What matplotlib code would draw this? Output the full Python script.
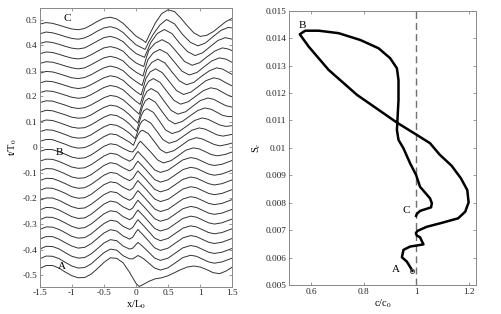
import numpy as np
import matplotlib
matplotlib.use("Agg")
import matplotlib.pyplot as plt

plt.rcParams['font.family'] = ['Liberation Serif', 'DejaVu Serif']
plt.rcParams['mathtext.fontset'] = 'stix'
plt.rcParams['axes.unicode_minus'] = False

# ---- left panel: profiles stacked at t/T0 (A bottom ... C top) ----
t_off = [-0.474, -0.436, -0.398, -0.359, -0.321, -0.283, -0.245, -0.207, -0.168,
         -0.130, -0.092, -0.054, -0.016, 0.023, 0.061, 0.099, 0.137, 0.175,
         0.214, 0.252, 0.290, 0.328, 0.366, 0.405, 0.443, 0.481]

# left part, shared x, displacement in 1e-3 t/T0
x_left = [-1.5, -1.4, -1.3, -1.2, -1.1, -1.0, -0.9, -0.8, -0.7, -0.6, -0.5, -0.4, -0.3]
d_left = [
    [0, 12, 12, 2, -14, -28, -36, -35, -22, 0, 24, 42, 40],
    [0, 11, 10, 1, -14, -28, -36, -34, -20, 2, 24, 38, 34],
    [0, 11, 10, 1, -14, -28, -35, -33, -19, 2, 24, 37, 33],
    [0, 10, 10, 0, -14, -27, -35, -32, -18, 3, 24, 37, 32],
    [0, 10, 9, 0, -13, -27, -34, -32, -18, 3, 23, 36, 32],
    [0, 10, 9, 0, -13, -26, -34, -31, -17, 3, 23, 35, 31],
    [0, 10, 9, 0, -13, -26, -33, -31, -17, 3, 23, 35, 30],
    [0, 9, 9, 0, -13, -25, -32, -30, -16, 3, 22, 34, 30],
    [0, 9, 8, -1, -12, -25, -31, -29, -16, 3, 22, 33, 29],
    [0, 9, 8, -1, -12, -24, -30, -28, -15, 3, 21, 32, 28],
    [0, 9, 8, -1, -12, -24, -29, -27, -15, 3, 21, 32, 27],
    [0, 8, 7, -1, -12, -23, -28, -26, -14, 3, 20, 31, 27],
    [0, 8, 7, -1, -11, -22, -27, -25, -14, 3, 20, 30, 26],
    [0, 8, 7, -2, -11, -21, -26, -24, -13, 3, 19, 30, 26],
    [0, 8, 6, -2, -11, -21, -25, -23, -12, 4, 19, 29, 25],
    [0, 8, 6, -2, -11, -20, -24, -22, -11, 4, 19, 29, 25],
    [0, 8, 6, -2, -10, -19, -23, -21, -10, 5, 19, 28, 24],
    [0, 7, 6, -2, -10, -19, -23, -20, -9, 5, 19, 28, 24],
    [0, 7, 5, -2, -10, -18, -22, -19, -8, 6, 20, 28, 23],
    [0, 7, 5, -2, -10, -18, -22, -18, -7, 7, 20, 28, 23],
    [0, 7, 5, -2, -10, -18, -21, -17, -6, 8, 21, 28, 22],
    [0, 7, 5, -2, -10, -17, -21, -17, -5, 9, 22, 28, 22],
    [0, 7, 5, -2, -10, -17, -20, -16, -4, 10, 23, 28, 22],
    [1, 8, 5, -2, -10, -17, -20, -16, -3, 11, 24, 29, 22],
    [1, 8, 5, -2, -10, -17, -20, -15, -3, 12, 24, 29, 22],
    [1, 7, 4, -3, -11, -18, -21, -16, -3, 12, 24, 28, 21],
]

# right part (x > -0.3), per curve
x_low = [-0.2, -0.1, -0.05, 0.0, 0.03, 0.07, 0.12, 0.205, 0.29, 0.38, 0.5, 0.615,
         0.73, 0.85, 0.94, 1.035, 1.13, 1.22, 1.34, 1.5]
d_low = [12, 0, 8, 28, 38, 27, 14, -10, -34, -44, -35, -15, 5, 14, 10, -1, -12, -17, -12, 3]

x_right = [
    [-0.2, -0.1, 0.0, 0.05, 0.1, 0.2, 0.3, 0.4, 0.5, 0.6, 0.7, 0.8, 0.9, 1.0, 1.1, 1.2, 1.3, 1.4, 1.5],
    x_low, x_low, x_low, x_low, x_low, x_low, x_low, x_low, x_low, x_low, x_low,
    [-0.2, -0.1, -0.05, 0.0, 0.04, 0.07, 0.115, 0.16, 0.25, 0.335, 0.425, 0.545, 0.66, 0.775,
     0.895, 0.985, 1.08, 1.17, 1.265, 1.385, 1.5],
    [-0.2, -0.1, -0.04, 0.0, 0.04, 0.07, 0.10, 0.19, 0.285, 0.38, 0.47, 0.59, 0.705, 0.82,
     0.94, 1.03, 1.125, 1.22, 1.31, 1.41, 1.5],
    [-0.2, -0.1, -0.05, -0.012, 0.025, 0.06, 0.095, 0.135, 0.23, 0.325, 0.42, 0.515, 0.63,
     0.75, 0.87, 0.985, 1.08, 1.17, 1.26, 1.355, 1.5],
    [-0.2, -0.1, -0.04, 0.01, 0.045, 0.08, 0.12, 0.17, 0.27, 0.365, 0.46, 0.56, 0.675, 0.795,
     0.91, 1.03, 1.12, 1.215, 1.31, 1.40, 1.5],
    [-0.2, -0.1, -0.03, 0.03, 0.065, 0.1, 0.145, 0.2, 0.3, 0.4, 0.505, 0.605, 0.72, 0.84,
     0.96, 1.075, 1.17, 1.26, 1.35, 1.445, 1.5],
    [-0.2, -0.1, -0.02, 0.048, 0.085, 0.12, 0.17, 0.235, 0.34, 0.44, 0.545, 0.65, 0.77,
     0.885, 1.0, 1.12, 1.21, 1.305, 1.4, 1.5],
    [-0.2, -0.1, -0.01, 0.065, 0.105, 0.14, 0.195, 0.27, 0.375, 0.48, 0.59, 0.695, 0.81,
     0.93, 1.05, 1.165, 1.26, 1.35, 1.44, 1.5],
    [-0.2, -0.1, 0.0, 0.08, 0.12, 0.155, 0.22, 0.305, 0.41, 0.52, 0.63, 0.74, 0.855, 0.975,
     1.09, 1.21, 1.3, 1.39, 1.5],
    [-0.2, -0.1, 0.0, 0.095, 0.135, 0.17, 0.245, 0.34, 0.45, 0.56, 0.675, 0.785, 0.9, 1.02,
     1.14, 1.255, 1.35, 1.44, 1.5],
    [-0.2, -0.1, 0.0, 0.108, 0.148, 0.185, 0.27, 0.37, 0.485, 0.6, 0.715, 0.83, 0.95, 1.065,
     1.18, 1.3, 1.4, 1.5],
    [-0.2, -0.1, 0.0, 0.12, 0.16, 0.2, 0.295, 0.405, 0.52, 0.64, 0.755, 0.875, 0.99, 1.11,
     1.23, 1.345, 1.43, 1.5],
    [-0.2, -0.1, 0.0, 0.132, 0.18, 0.23, 0.33, 0.44, 0.56, 0.68, 0.8, 0.92, 1.04, 1.155,
     1.275, 1.39, 1.5],
    [-0.2, -0.1, 0.0, 0.142, 0.2, 0.27, 0.37, 0.475, 0.6, 0.72, 0.845, 0.965, 1.08, 1.2,
     1.32, 1.435, 1.5],
    [-0.2, -0.1, 0.0, 0.1, 0.152, 0.2, 0.3, 0.4, 0.5, 0.6, 0.7, 0.8, 0.9, 1.0, 1.1, 1.2,
     1.3, 1.4, 1.5],
]
d_right = [
    [22, -15, -58, -70, -64, -50, -40, -36, -28, -16, -4, 6, 10, 6, -4, -16, -20, -10, 6],
    [12, 0, 0, 8, 13, 8, 0, -18, -36, -44, -35, -15, 5, 14, 10, -1, -12, -17, -12, 3],
    [12, 0, 4, 18, 26, 18, 7, -14, -35, -44, -35, -15, 5, 14, 10, -1, -12, -17, -12, 3],
    d_low, d_low, d_low, d_low, d_low, d_low, d_low, d_low, d_low,
    [12, 0, -2, 14, 32, 40, 28, 16, -8, -33, -45, -36, -16, 5, 14, 10, -1, -12, -17, -12, -2],
    [12, -3, -15, 10, 30, 40, 44, 31, 0, -32, -45, -36, -16, 5, 15, 10, -1, -12, -17, -12, -6],
    [12, -6, -18, -27, 0, 28, 42, 48, 34, 2, -31, -45, -36, -15, 6, 15, 10, -1, -12, -17, -10],
    [12, -8, -24, -36, -6, 24, 44, 52, 38, 4, -31, -45, -36, -15, 6, 16, 11, -1, -12, -17, -14],
    [11, -10, -28, -42, -10, 22, 45, 55, 40, 5, -30, -45, -36, -14, 7, 17, 12, 0, -12, -17, -16],
    [11, -11, -30, -45, -12, 20, 44, 55, 40, 5, -30, -45, -36, -14, 8, 18, 13, 0, -12, -18],
    [11, -12, -32, -46, -12, 20, 44, 55, 40, 5, -30, -45, -36, -14, 8, 19, 14, 1, -11, -16],
    [10, -13, -34, -47, -13, 18, 43, 55, 40, 5, -30, -45, -36, -13, 9, 20, 15, 2, -12],
    [10, -14, -33, -48, -14, 16, 42, 55, 40, 5, -30, -45, -36, -12, 9, 21, 16, 3, -5],
    [10, -15, -34, -49, -15, 15, 42, 55, 40, 5, -30, -45, -35, -12, 10, 22, 17, 4],
    [10, -16, -36, -50, -16, 14, 41, 55, 40, 5, -30, -45, -35, -11, 11, 23, 19, 12],
    [8, -17, -38, -53, -25, 5, 40, 56, 40, 2, -30, -46, -35, -11, 13, 24, 18],
    [6, -19, -42, -60, -30, 0, 35, 57, 40, 0, -32, -46, -35, -10, 14, 26, 24],
    [4, -21, -46, -61, -71, -45, 5, 42, 57, 50, 24, -6, -33, -47, -43, -29, -9, 11, 24],
]

# ---- right panel: S_c against c/c0, path A -> B -> C ----
c_ratio = [0.986, 0.965, 0.946, 0.952, 0.977, 1.028, 1.015, 1.003, 0.999, 1.005, 1.04,
           1.10, 1.16, 1.187, 1.2, 1.195, 1.17, 1.135, 1.09, 1.053, 1.003, 0.927,
           0.876, 0.775, 0.667, 0.591, 0.557, 0.578, 0.629, 0.705, 0.788, 0.857,
           0.901, 0.927, 0.933, 0.933, 0.929, 0.927, 0.933, 0.952, 0.977, 1.0,
           1.015, 1.053, 1.06, 1.057, 1.015, 1.003, 1.0]
s_c = [0.00552, 0.00585, 0.00601, 0.00628, 0.0064, 0.00648, 0.00674, 0.0068, 0.00689,
       0.00697, 0.00712, 0.00727, 0.00743, 0.00767, 0.00801, 0.00846, 0.0089,
       0.00935, 0.00975, 0.01017, 0.01047, 0.01092, 0.01126, 0.01193, 0.01284,
       0.01369, 0.01414, 0.01427, 0.01427, 0.01418, 0.01393, 0.01363, 0.01327,
       0.0129, 0.01247, 0.01174, 0.01101, 0.01065, 0.01029, 0.00998, 0.00944,
       0.00901, 0.00858, 0.00816, 0.00798, 0.00783, 0.0077, 0.00759, 0.00752]

fig = plt.figure(figsize=(5.02, 3.14), dpi=100)
ax1 = fig.add_axes([0.0791, 0.0869, 0.3837, 0.8876])
ax2 = fig.add_axes([0.5757, 0.0924, 0.3719, 0.8736])

for k in range(len(t_off)):
    xs = x_left + list(x_right[k])
    ys = [t_off[k] + d / 1000.0 for d in d_left[k] + list(d_right[k])]
    ax1.plot(xs, ys, color='#333333', lw=0.7)

ax1.set_xlim(-1.5, 1.5)
ax1.set_ylim(-0.545, 0.545)
ax1.set_xticks([-1.5, -1, -0.5, 0, 0.5, 1, 1.5])
ax1.set_xticklabels(['-1.5', '-1', '-0.5', '0', '0.5', '1', '1.5'])
yt = [-0.5, -0.4, -0.3, -0.2, -0.1, 0, 0.1, 0.2, 0.3, 0.4, 0.5]
ax1.set_yticks(yt)
ax1.set_yticklabels(['-0.5', '-0.4', '-0.3', '-0.2', '-0.1', '0', '0.1', '0.2', '0.3', '0.4', '0.5'])
ax1.set_xlabel('x/L$_0$', fontsize=7.5, labelpad=1)
ax1.set_ylabel('t/T$_0$', fontsize=7.5, labelpad=2)
ax1.text(-1.07, 0.505, 'C', fontsize=8, ha='center', va='center')
ax1.text(-1.2, -0.022, 'B', fontsize=8, ha='center', va='center')
ax1.text(-1.15, -0.466, 'A', fontsize=8, ha='center', va='center')

ax2.axvline(1.0, color='#707070', lw=1.0, ls=(0, (5, 3)))
ax2.plot(c_ratio, s_c, color='black', lw=1.8, solid_joinstyle='round')
ax2.plot(c_ratio[0], s_c[0], marker='o', ms=3, mfc='none', mec='#555555', mew=0.7)
ax2.set_xlim(0.516, 1.227)
ax2.set_ylim(0.005, 0.015)
ax2.set_xticks([0.6, 0.8, 1.0, 1.2])
ax2.set_xticklabels(['0.6', '0.8', '1', '1.2'])
st = [0.005, 0.006, 0.007, 0.008, 0.009, 0.01, 0.011, 0.012, 0.013, 0.014, 0.015]
ax2.set_yticks(st)
ax2.set_yticklabels(['0.005', '0.006', '0.007', '0.008', '0.009', '0.01', '0.011',
                     '0.012', '0.013', '0.014', '0.015'])
ax2.set_xlabel('c/c$_0$', fontsize=7.5, labelpad=1)
ax2.set_ylabel('S$_c$', fontsize=7.5, labelpad=2)
ax2.text(0.568, 0.01446, 'B', fontsize=8, ha='center', va='center')
ax2.text(0.963, 0.00773, 'C', fontsize=8, ha='center', va='center')
ax2.text(0.923, 0.00558, 'A', fontsize=8, ha='center', va='center')

for ax in (ax1, ax2):
    ax.tick_params(direction='in', length=2.5, width=0.6, labelsize=6.7, pad=2,
                   top=True, right=True, colors='#222222')
    ax.tick_params(colors='#888888', labelcolor='#222222')
    for sp in ax.spines.values():
        sp.set_color('#888888')
        sp.set_linewidth(0.7)

fig.savefig('out.png', dpi=100)
